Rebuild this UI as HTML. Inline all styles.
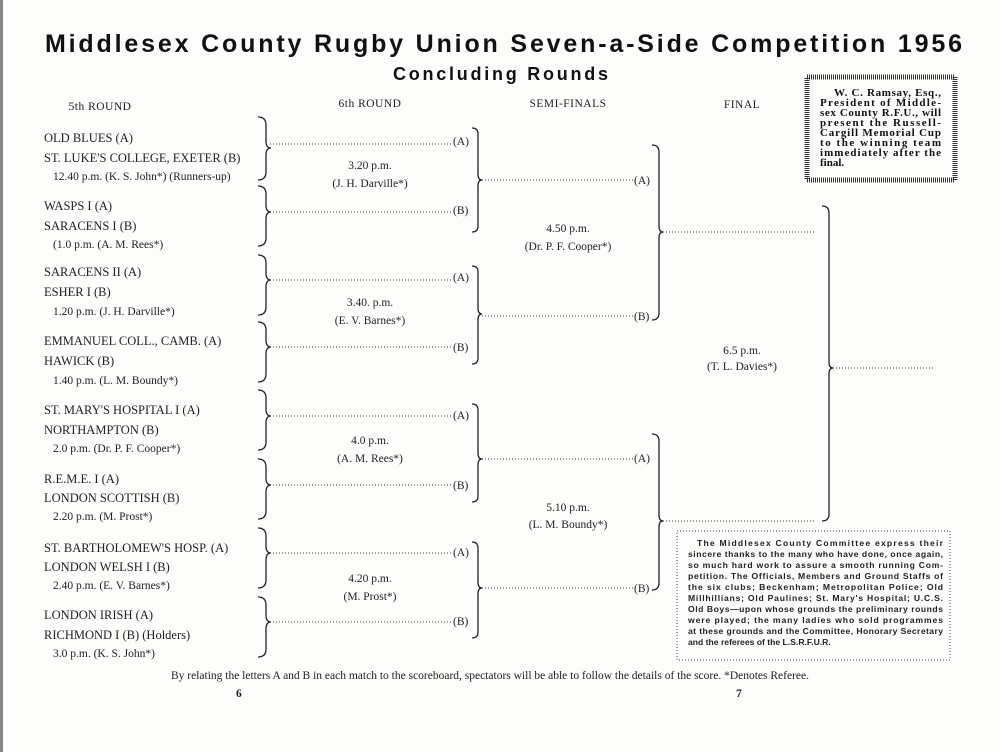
<!DOCTYPE html>
<html><head><meta charset="utf-8"><style>
html,body{margin:0;padding:0;background:#fff}
svg{display:block}
.s{font-family:"Liberation Serif",serif;fill:#222}
.t{font-size:12.5px}
.m{font-size:11.5px}
.h{font-size:11.5px;letter-spacing:0.5px}
.d{stroke:#333;stroke-width:1;stroke-dasharray:1 2}
.b{fill:none;stroke:#222;stroke-width:1.3}
</style></head><body>
<svg width="1000" height="752" viewBox="0 0 1000 752" xmlns="http://www.w3.org/2000/svg">
<rect width="1000" height="752" fill="#fdfdfb"/>
<rect x="0" y="0" width="3" height="752" fill="#888"/>
<text x="45" y="52" textLength="917" lengthAdjust="spacing" font-family="Liberation Sans,sans-serif" font-weight="bold" font-size="25" fill="#111">Middlesex County  Rugby Union Seven-a-Side  Competition 1956</text>
<text x="393" y="80" textLength="215" lengthAdjust="spacing" font-family="Liberation Sans,sans-serif" font-weight="bold" font-size="18" fill="#111">Concluding  Rounds</text>
<g class="s h">
<text x="100" y="110" text-anchor="middle">5th  ROUND</text>
<text x="370" y="107" text-anchor="middle">6th  ROUND</text>
<text x="568" y="107" text-anchor="middle">SEMI-FINALS</text>
<text x="742" y="108" text-anchor="middle">FINAL</text>
</g>
<g class="s t">
<text x="44" y="142">OLD BLUES (A)</text>
<text x="44" y="162">ST. LUKE'S COLLEGE, EXETER (B)</text>
<text x="53" y="180" class="m">12.40 p.m. (K. S. John*)  (Runners-up)</text>
<text x="44" y="210">WASPS I (A)</text>
<text x="44" y="230">SARACENS I (B)</text>
<text x="53" y="248" class="m">(1.0 p.m. (A. M. Rees*)</text>
<text x="44" y="276">SARACENS II (A)</text>
<text x="44" y="296">ESHER I (B)</text>
<text x="53" y="315" class="m">1.20 p.m. (J. H. Darville*)</text>
<text x="44" y="345">EMMANUEL COLL., CAMB. (A)</text>
<text x="44" y="365">HAWICK (B)</text>
<text x="53" y="384" class="m">1.40 p.m. (L. M. Boundy*)</text>
<text x="44" y="414">ST. MARY'S HOSPITAL I (A)</text>
<text x="44" y="434">NORTHAMPTON (B)</text>
<text x="53" y="452" class="m">2.0 p.m. (Dr. P. F. Cooper*)</text>
<text x="44" y="483">R.E.M.E. I (A)</text>
<text x="44" y="502">LONDON SCOTTISH (B)</text>
<text x="53" y="520" class="m">2.20 p.m. (M. Prost*)</text>
<text x="44" y="552">ST. BARTHOLOMEW'S HOSP. (A)</text>
<text x="44" y="571">LONDON WELSH I (B)</text>
<text x="53" y="589" class="m">2.40 p.m. (E. V. Barnes*)</text>
<text x="44" y="619">LONDON IRISH (A)</text>
<text x="44" y="639">RICHMOND I (B) (Holders)</text>
<text x="53" y="657" class="m">3.0 p.m. (K. S. John*)</text>
</g>
<g class="s m" text-anchor="middle">
<text x="370" y="169">3.20 p.m.</text><text x="370" y="187">(J. H. Darville*)</text>
<text x="370" y="306">3.40. p.m.</text><text x="370" y="324">(E. V. Barnes*)</text>
<text x="370" y="444">4.0 p.m.</text><text x="370" y="462">(A. M. Rees*)</text>
<text x="370" y="582">4.20 p.m.</text><text x="370" y="600">(M. Prost*)</text>
<text x="568" y="232">4.50 p.m.</text><text x="568" y="250">(Dr. P. F. Cooper*)</text>
<text x="568" y="511">5.10 p.m.</text><text x="568" y="528">(L. M. Boundy*)</text>
<text x="742" y="354">6.5 p.m.</text><text x="742" y="370">(T. L. Davies*)</text>
</g>
<g class="b">
<path d="M258 117 Q266 117 266 125 L266 141 Q266 148 271 148 Q266 148 266 155 L266 172 Q266 180 258 180"/>
<path d="M258 186 Q266 186 266 194 L266 205 Q266 212 271 212 Q266 212 266 219 L266 238 Q266 246 258 246"/>
<path d="M258 255 Q266 255 266 263 L266 273 Q266 280 271 280 Q266 280 266 287 L266 307 Q266 315 258 315"/>
<path d="M258 322 Q266 322 266 330 L266 340 Q266 347 271 347 Q266 347 266 354 L266 374 Q266 382 258 382"/>
<path d="M258 390 Q266 390 266 398 L266 409 Q266 416 271 416 Q266 416 266 423 L266 442 Q266 450 258 450"/>
<path d="M258 459 Q266 459 266 467 L266 478 Q266 485 271 485 Q266 485 266 492 L266 511 Q266 519 258 519"/>
<path d="M258 528 Q266 528 266 536 L266 546 Q266 553 271 553 Q266 553 266 560 L266 580 Q266 588 258 588"/>
<path d="M258 597 Q266 597 266 605 L266 615 Q266 622 271 622 Q266 622 266 629 L266 649 Q266 657 258 657"/>
<path d="M472 128 Q478 128 478 134 L478 174 Q478 180 482 180 Q478 180 478 186 L478 226 Q478 232 472 232"/>
<path d="M472 266 Q478 266 478 272 L478 308 Q478 314 482 314 Q478 314 478 320 L478 358 Q478 364 472 364"/>
<path d="M472 404 Q478 404 478 410 L478 453 Q478 459 482 459 Q478 459 478 465 L478 496 Q478 502 472 502"/>
<path d="M472 542 Q478 542 478 548 L478 582 Q478 588 482 588 Q478 588 478 594 L478 632 Q478 638 472 638"/>
<path d="M652 145 Q659 145 659 152 L659 226 Q659 232 663 232 Q659 232 659 238 L659 313 Q659 320 652 320"/>
<path d="M652 434 Q659 434 659 441 L659 515 Q659 521 663 521 Q659 521 659 527 L659 583 Q659 590 652 590"/>
<path d="M822 206 Q829 206 829 213 L829 362 Q829 368 833 368 Q829 368 829 374 L829 514 Q829 521 822 521"/>
</g>
<g class="d">
<line x1="270" y1="144" x2="453" y2="144"/><line x1="270" y1="212" x2="453" y2="212"/>
<line x1="270" y1="280" x2="453" y2="280"/><line x1="270" y1="347" x2="453" y2="347"/>
<line x1="270" y1="416" x2="453" y2="416"/><line x1="270" y1="485" x2="453" y2="485"/>
<line x1="270" y1="553" x2="453" y2="553"/><line x1="270" y1="622" x2="453" y2="622"/>
<line x1="482" y1="180" x2="633" y2="180"/><line x1="482" y1="316" x2="633" y2="316"/>
<line x1="482" y1="459" x2="633" y2="459"/><line x1="482" y1="588" x2="633" y2="588"/>
<line x1="663" y1="232" x2="815" y2="232"/><line x1="663" y1="521" x2="815" y2="521"/>
<line x1="833" y1="368" x2="935" y2="368"/>
</g>
<g class="s m">
<text x="453" y="145">(A)</text><text x="453" y="214">(B)</text>
<text x="453" y="281">(A)</text><text x="453" y="351">(B)</text>
<text x="453" y="419">(A)</text><text x="453" y="489">(B)</text>
<text x="453" y="556">(A)</text><text x="453" y="625">(B)</text>
<text x="634" y="184">(A)</text><text x="634" y="320">(B)</text>
<text x="634" y="462">(A)</text><text x="634" y="592">(B)</text>
</g>
<rect x="807" y="77" width="148" height="103" fill="none" stroke="#333" stroke-width="5" stroke-dasharray="1 1"/>
<g font-family="Liberation Serif,serif" font-weight="bold" font-size="11" fill="#111">
<text x="834" y="96" textLength="107" lengthAdjust="spacing">W. C. Ramsay, Esq.,</text>
<text x="820" y="106" textLength="121" lengthAdjust="spacing">President of Middle-</text>
<text x="820" y="116" textLength="121" lengthAdjust="spacing">sex County R.F.U., will</text>
<text x="820" y="126" textLength="121" lengthAdjust="spacing">present the Russell-</text>
<text x="820" y="136" textLength="121" lengthAdjust="spacing">Cargill Memorial Cup</text>
<text x="820" y="146" textLength="121" lengthAdjust="spacing">to the winning team</text>
<text x="820" y="156" textLength="121" lengthAdjust="spacing">immediately after the</text>
<text x="820" y="166">final.</text>
</g>
<rect x="677" y="531" width="273" height="129" fill="none" stroke="#444" stroke-dasharray="1 2"/>
<g font-family="Liberation Sans,sans-serif" font-weight="bold" font-size="8.6" fill="#222">
<text x="697" y="546" textLength="246" lengthAdjust="spacing">The  Middlesex  County  Committee  express  their</text>
<text x="688" y="557" textLength="255" lengthAdjust="spacing">sincere thanks to the many who have done, once again,</text>
<text x="688" y="568" textLength="255" lengthAdjust="spacing">so much hard work to assure a smooth running Com-</text>
<text x="688" y="579" textLength="255" lengthAdjust="spacing">petition. The Officials, Members and Ground Staffs of</text>
<text x="688" y="590" textLength="255" lengthAdjust="spacing">the six clubs; Beckenham; Metropolitan Police; Old</text>
<text x="688" y="601" textLength="255" lengthAdjust="spacing">Millhillians; Old Paulines; St. Mary's Hospital; U.C.S.</text>
<text x="688" y="612" textLength="255" lengthAdjust="spacing">Old Boys—upon whose grounds the preliminary rounds</text>
<text x="688" y="623" textLength="255" lengthAdjust="spacing">were played; the many ladies who sold programmes</text>
<text x="688" y="634" textLength="255" lengthAdjust="spacing">at these grounds and the Committee, Honorary Secretary</text>
<text x="688" y="645">and the referees of the L.S.R.F.U.R.</text>
</g>
<text x="490" y="679" text-anchor="middle" class="s" font-size="11.5">By relating the letters A and B in each match to the scoreboard, spectators will be able to follow the details of the score.  *Denotes Referee.</text>
<text x="236" y="697" class="s" font-size="11.5" font-weight="bold">6</text>
<text x="736" y="697" class="s" font-size="11.5" font-weight="bold">7</text>
</svg>
</body></html>
